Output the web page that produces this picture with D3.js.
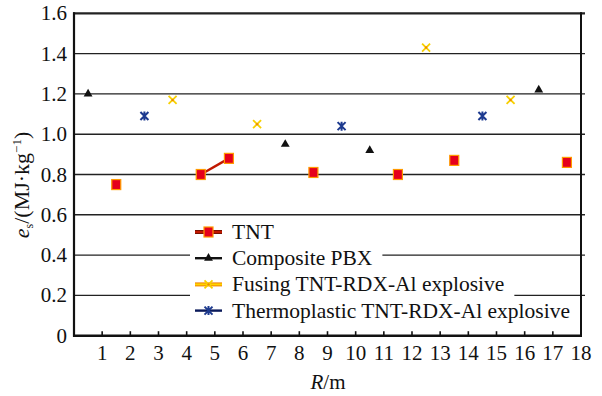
<!DOCTYPE html>
<html><head><meta charset="utf-8">
<script src="https://cdn.jsdelivr.net/npm/d3@7/dist/d3.min.js"></script>
<style>
body{margin:0;background:#fff}
svg{display:block}
</style>
</head><body>
<svg id="c" width="602" height="396"></svg>
<script>
// ---- data ----
const R = [0.5,1.5,2.5,3.5,4.5,5.5,6.5,7.5,8.5,9.5,10.5,11.5,12.5,13.5,14.5,15.5,16.5,17.5];
const tnt     = [null,0.75,null,null,0.80,0.88,null,null,0.81,null,null,0.80,null,0.87,null,null,null,0.86];
const pbx     = [1.20,null,null,null,null,null,null,0.95,null,null,0.92,null,null,null,null,null,1.22,null];
const fusing  = [null,null,null,1.17,null,null,1.05,null,null,null,null,null,1.43,null,null,1.17,null,null];
const thermo  = [null,null,1.09,null,null,null,null,null,null,1.04,null,null,null,null,1.09,null,null,null];
const seriesNames = ["TNT","Composite PBX","Fusing TNT-RDX-Al explosive","Thermoplastic TNT-RDX-Al explosive"];
const xTicks = [1,2,3,4,5,6,7,8,9,10,11,12,13,14,15,16,17,18];
const yTicks = [0,0.2,0.4,0.6,0.8,1.0,1.2,1.4,1.6];

const FONT = "Liberation Serif";
const svg = d3.select("#c");
const x = d3.scaleLinear().domain([0,18]).range([74,581]);
const y = d3.scaleLinear().domain([0,1.6]).range([335.7,13.3]);

// gridlines
svg.append("g").selectAll("line").data(yTicks.filter(v=>v>0)).join("line")
  .attr("x1",x(0)-1).attr("x2",x(18)+4)
  .attr("y1",d=>y(d)).attr("y2",d=>y(d))
  .attr("stroke","#222").attr("stroke-width",d=>d===1.6?2.2:1.4);

// axes frame
svg.append("line").attr("x1",x(0)).attr("x2",x(0)).attr("y1",y(1.6)-1).attr("y2",y(0)+1).attr("stroke","#111").attr("stroke-width",2.2);
svg.append("line").attr("x1",x(18)).attr("x2",x(18)).attr("y1",y(1.6)-1).attr("y2",y(0)+1).attr("stroke","#111").attr("stroke-width",2);
svg.append("line").attr("x1",x(0)-1).attr("x2",x(18)+1).attr("y1",y(0)).attr("y2",y(0)).attr("stroke","#111").attr("stroke-width",2.4);

// x ticks (inside, upward)
svg.append("g").selectAll("line").data(xTicks.filter(v=>v<18)).join("line")
  .attr("x1",d=>x(d)).attr("x2",d=>x(d)).attr("y1",y(0)).attr("y2",y(0)-4.5)
  .attr("stroke","#111").attr("stroke-width",1.6);

// tick labels
svg.append("g").selectAll("text").data(xTicks).join("text")
  .attr("x",d=>x(d)).attr("y",y(0)+24).attr("text-anchor","middle")
  .attr("font-family",FONT).attr("font-size",21).attr("fill","#111").text(d=>d);
svg.append("g").selectAll("text").data(yTicks).join("text")
  .attr("x",67).attr("y",d=>y(d)+7).attr("text-anchor","end")
  .attr("font-family",FONT).attr("font-size",21).attr("fill","#111").text(d=>d===0?"0":d.toFixed(1));

// axis titles
const xt = svg.append("text").attr("x",328).attr("y",389).attr("text-anchor","middle")
  .attr("font-family",FONT).attr("font-size",21).attr("fill","#111");
xt.append("tspan").attr("font-style","italic").text("R");
xt.append("tspan").text("/m");

const yt = svg.append("text").attr("transform","translate(29,185) rotate(-90)").attr("text-anchor","middle")
  .attr("font-family",FONT).attr("font-size",22).attr("fill","#111");
yt.append("tspan").attr("font-style","italic").text("e");
yt.append("tspan").attr("font-size",12).attr("baseline-shift","-4").text("s");
yt.append("tspan").text("/(MJ·kg");
yt.append("tspan").attr("font-size",13).attr("baseline-shift","8").text("−1");
yt.append("tspan").text(")");

// marker drawers
function drawSquare(g, cx, cy){
  g.append("rect").attr("x",cx-4.5).attr("y",cy-5).attr("width",9).attr("height",10)
   .attr("fill","#e5001c").attr("stroke","#ff9a00").attr("stroke-width",1.2);
}
function drawTri(g, cx, cy){
  g.append("path").attr("transform",`translate(${cx},${cy})`)
   .attr("d",d3.symbol(d3.symbolTriangle,34)()).attr("fill","#111");
}
function drawX(g, cx, cy){
  g.append("path").attr("d",`M${cx-4},${cy-4}L${cx+4},${cy+4}M${cx-4},${cy+4}L${cx+4},${cy-4}`)
   .attr("stroke","#f7d000").attr("stroke-width",1.8);
  g.append("circle").attr("cx",cx).attr("cy",cy).attr("r",1.2).attr("fill","#f08a00");
}
function drawStar(g, cx, cy){
  g.append("path").attr("d",`M${cx-4},${cy-4}L${cx+4},${cy+4}M${cx-4},${cy+4}L${cx+4},${cy-4}M${cx},${cy-4.5}L${cx},${cy+4.5}`)
   .attr("stroke","#1d3a8f").attr("stroke-width",2);
}

const series = [
  {name:seriesNames[0], vals:tnt,    line:"#c01800", lineOuter:"#7a1000", draw:drawSquare},
  {name:seriesNames[1], vals:pbx,    line:"#111",    lineOuter:null,      draw:drawTri},
  {name:seriesNames[2], vals:fusing, line:"#ffd400", lineOuter:"#f08000", draw:drawX},
  {name:seriesNames[3], vals:thermo, line:"#0a1a5a", lineOuter:null,      draw:drawStar}
];

const lineGen = d3.line().defined(d=>d[1]!==null).x(d=>x(d[0])).y(d=>y(d[1]));
series.forEach(s=>{
  const pts = R.map((r,i)=>[r,s.vals[i]]);
  svg.append("path").datum(pts).attr("d",lineGen).attr("fill","none")
    .attr("stroke",s.line).attr("stroke-width",2.4);
  const g = svg.append("g");
  pts.filter(p=>p[1]!==null).forEach(p=>s.draw(g,x(p[0]),y(p[1])));
});

// legend
const lg = svg.append("g");
series.forEach((s,i)=>{
  const cy = 232 + i*26.2;
  const row = lg.append("g");
  const bg = row.append("rect").attr("fill","#fff");
  const t = row.append("text").attr("x",232).attr("y",cy+7)
    .attr("font-family",FONT).attr("font-size",21.5).attr("fill","#111").text(s.name);
  const w = t.node().getComputedTextLength();
  bg.attr("x",190).attr("y",cy-12).attr("width",232+w+10-190).attr("height",24);
  t.raise();
  if(s.lineOuter){
    row.append("line").attr("x1",195).attr("x2",222).attr("y1",cy).attr("y2",cy).attr("stroke",s.lineOuter).attr("stroke-width",4);
  }
  row.append("line").attr("x1",195).attr("x2",222).attr("y1",cy).attr("y2",cy).attr("stroke",s.line).attr("stroke-width",s.lineOuter?2:2.4);
  s.draw(row,208.5,cy);
});
</script>
</body></html>
